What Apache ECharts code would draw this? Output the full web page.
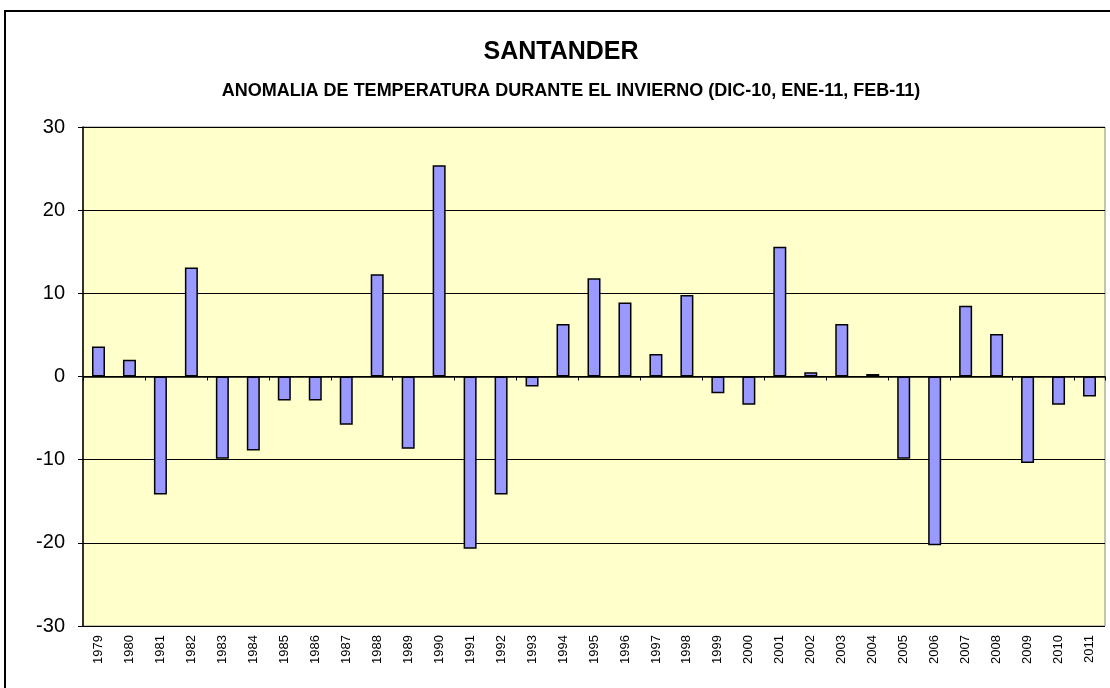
<!DOCTYPE html>
<html lang="es">
<head>
    <meta charset="UTF-8">
    <title>Santander</title>
    <script src="https://cdn.jsdelivr.net/npm/echarts@6/dist/echarts.min.js"></script>
    <style>
        html, body { margin: 0; padding: 0; background: #fff; }
        #chart { width: 1110px; height: 688px; }
    </style>
</head>
<body>
<div id="chart"></div>
<script>
    var years = ['1979', '1980', '1981', '1982', '1983', '1984', '1985', '1986', '1987', '1988',
        '1989', '1990', '1991', '1992', '1993', '1994', '1995', '1996', '1997', '1998',
        '1999', '2000', '2001', '2002', '2003', '2004', '2005', '2006', '2007', '2008',
        '2009', '2010', '2011'];
    var anomalia = [3.6, 2.0, -14.2, 13.1, -9.9, -8.9, -2.9, -2.9, -5.8, 12.3,
        -8.7, 25.4, -20.7, -14.2, -1.2, 6.3, 11.8, 8.9, 2.7, 9.8,
        -2.0, -3.4, 15.6, 0.5, 6.3, 0.3, -9.9, -20.3, 8.5, 5.1,
        -10.4, -3.4, -2.4];
    var yTicks = [-30, -20, -10, 0, 10, 20, 30];

    var chart = echarts.init(document.getElementById('chart'));
    var option = {
        animation: false,
        backgroundColor: '#fff',
        textStyle: { fontFamily: 'Liberation Sans, Arial, sans-serif' },
        title: [
            {
                text: 'SANTANDER',
                left: 556, top: 35, textAlign: 'center',
                textStyle: { fontSize: 25, fontWeight: 'bold', color: '#000' }
            },
            {
                text: 'ANOMALIA DE TEMPERATURA DURANTE EL INVIERNO (DIC-10, ENE-11, FEB-11)',
                left: 566, top: 77, textAlign: 'center',
                textStyle: { fontSize: 18, fontWeight: 'bold', color: '#000' }
            }
        ],
        graphic: [{
            type: 'rect',
            shape: { x: 5, y: 11, width: 1120, height: 700 },
            style: { fill: 'none', stroke: '#000', lineWidth: 2 },
            silent: true
        }],
        grid: {
            left: 83, right: 5, top: 127, bottom: 62,
            show: true, backgroundColor: '#FFFFCC', borderColor: '#888', borderWidth: 1
        },
        xAxis: [
            {
                type: 'category', data: years,
                axisLine: { onZero: true, lineStyle: { color: '#000', width: 1.5 } },
                axisTick: { show: true, length: 4, lineStyle: { color: '#000' } },
                axisLabel: { show: false },
                splitLine: { show: false }
            },
            {
                type: 'category', data: years, position: 'bottom',
                axisLine: { show: false, onZero: false },
                axisTick: { show: false },
                axisLabel: { rotate: 90, fontSize: 13, color: '#000', margin: 9 }
            }
        ],
        yAxis: {
            type: 'value', min: -30, max: 30, interval: 10,
            axisLine: { show: true, lineStyle: { color: '#000', width: 1.5 } },
            axisTick: { show: true, length: 5, lineStyle: { color: '#000' } },
            axisLabel: {
                fontSize: 20, color: '#000', margin: 18,
                formatter: function (v) { return yTicks.indexOf(v) >= 0 ? String(v) : ''; }
            },
            splitLine: { lineStyle: { color: '#000', width: 1 } }
        },
        series: [{
            type: 'bar',
            xAxisIndex: 0,
            data: anomalia,
            barWidth: 13,
            itemStyle: { color: '#9999FF', borderColor: '#000', borderWidth: 1.5 }
        }]
    };
    chart.setOption(option);
</script>
</body>
</html>
